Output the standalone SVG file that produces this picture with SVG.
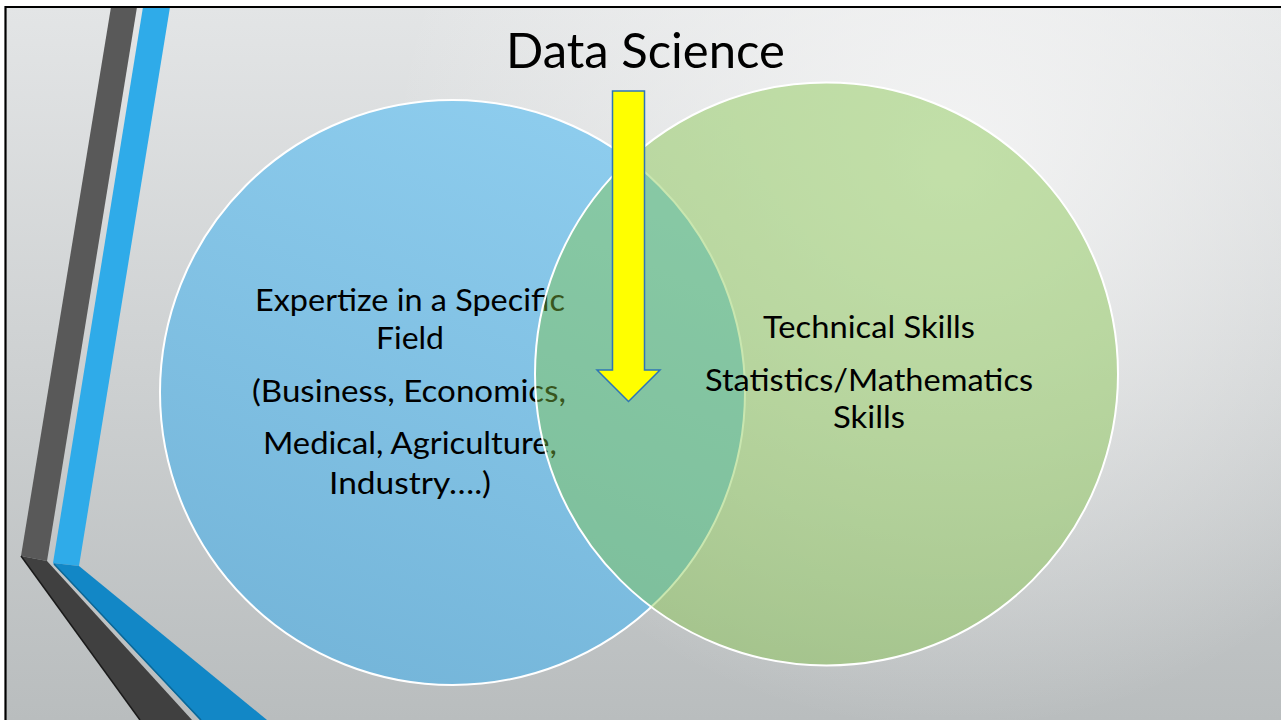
<svg xmlns="http://www.w3.org/2000/svg" width="1281" height="720" viewBox="0 0 1281 720">
  <defs>
    <linearGradient id="bgLin" x1="0" y1="0" x2="0" y2="1">
      <stop offset="0" stop-color="#e3e5e6"/>
      <stop offset="1" stop-color="#b9bdbe"/>
    </linearGradient>
    <radialGradient id="bgHi" gradientUnits="userSpaceOnUse" cx="950" cy="170" r="560">
      <stop offset="0" stop-color="#f7f7f7" stop-opacity="0.85"/>
      <stop offset="1" stop-color="#f7f7f7" stop-opacity="0"/>
    </radialGradient>
    <linearGradient id="blueFill" x1="0.7" y1="0" x2="0.3" y2="1">
      <stop offset="0" stop-color="#8ecdee"/>
      <stop offset="1" stop-color="#74b5d9"/>
    </linearGradient>
    <style>
      .txt { font-family: Lato, "Liberation Sans", sans-serif; fill: #000; text-anchor: middle; }
      .body { font-size: 30px; }
      .title { font-size: 47.5px; }
      .circle { stroke: #ffffff; stroke-width: 2; }
    </style>
  </defs>

  <rect x="0" y="0" width="1281" height="720" fill="#ffffff"/>
  <g id="background">
    <rect x="5" y="7" width="1276" height="713" fill="url(#bgLin)"/>
    <rect x="5" y="7" width="1276" height="713" fill="url(#bgHi)"/>
  </g>

  <g id="decoration">
    <polygon points="111,7 137,7 47,561 21,556" fill="#595959"/>
    <polygon points="21,556 47,561 192,720 140,720" fill="#404040"/>
    <line x1="21" y1="556" x2="140" y2="720" stroke="#1a1a1a" stroke-width="1.5"/>
    <polygon points="143,7 170,7 79,566 53,563" fill="#2fabe9"/>
    <polygon points="53,563 79,566 267,720 200,720" fill="#1287c6"/>
    <line x1="54" y1="564" x2="201" y2="720" stroke="#0b6796" stroke-width="1.5"/>
  </g>

  <g id="node-domain">
    <circle class="circle" cx="452.5" cy="392.5" r="292.5" fill="url(#blueFill)"/>
    <text class="txt body" x="410" y="311" textLength="310" lengthAdjust="spacingAndGlyphs">Expertize in a Specific</text>
    <text class="txt body" x="410" y="349" textLength="68" lengthAdjust="spacingAndGlyphs">Field</text>
    <text class="txt body" x="409" y="402" textLength="314" lengthAdjust="spacingAndGlyphs">(Business, Economics,</text>
    <text class="txt body" x="410" y="454" textLength="294" lengthAdjust="spacingAndGlyphs">Medical, Agriculture,</text>
    <text class="txt body" x="410" y="494" textLength="162" lengthAdjust="spacingAndGlyphs">Industry….)</text>
  </g>

  <g id="node-technical">
    <circle class="circle" cx="826.5" cy="374" r="291.5" fill="#82c446" fill-opacity="0.43"/>
    <text class="txt body" x="869" y="338" textLength="212" lengthAdjust="spacingAndGlyphs">Technical Skills</text>
    <text class="txt body" x="869" y="391" textLength="328" lengthAdjust="spacingAndGlyphs">Statistics/Mathematics</text>
    <text class="txt body" x="869" y="428" textLength="72" lengthAdjust="spacingAndGlyphs">Skills</text>
  </g>

  <g id="title">
    <text class="txt title" x="645.5" y="68" textLength="279" lengthAdjust="spacingAndGlyphs">Data Science</text>
  </g>

  <g id="connectors">
    <path d="M612.5,91 H644.5 V370 H660 L628.5,401.5 L597,370 H612.5 Z" fill="#ffff00" stroke="#2e75b6" stroke-width="1.5" stroke-linejoin="miter"/>
  </g>

  <g id="frame">
    <path d="M5.5,720 V7 H1281" fill="none" stroke="#000000" stroke-width="2.2"/>
  </g>
</svg>
